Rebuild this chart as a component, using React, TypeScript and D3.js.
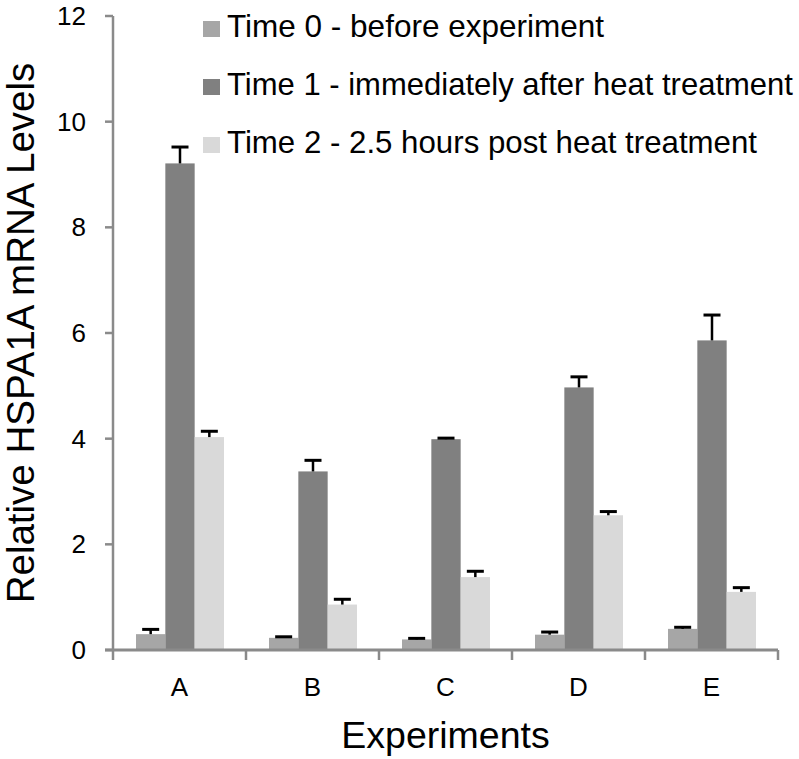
import React from "react";
import * as d3 from "d3";

const categories = ["A", "B", "C", "D", "E"];
const seriesNames = [
  "Time 0 - before experiment",
  "Time 1 - immediately after heat treatment",
  "Time 2 - 2.5 hours post heat treatment",
];
const time0 = [0.3, 0.23, 0.2, 0.29, 0.4];
const time1 = [9.21, 3.38, 3.99, 4.97, 5.86];
const time2 = [4.03, 0.86, 1.38, 2.55, 1.1];
const err0 = [0.09, 0.02, 0.02, 0.05, 0.03];
const err1 = [0.31, 0.21, 0.02, 0.2, 0.48];
const err2 = [0.11, 0.1, 0.11, 0.07, 0.08];
const yTicks = [0, 2, 4, 6, 8, 10, 12];
const colors = ["#a6a6a6", "#808080", "#d9d9d9"];
const legendLengths = [377, 566, 530];

const W = 799;
const H = 759;
const FONT = "'Liberation Sans', Arial, Helvetica, sans-serif";

export default function App() {
  const values = [time0, time1, time2];
  const errors = [err0, err1, err2];
  const left = 113;
  const right = 778;
  const top = 16;
  const bottom = 650;

  const x0 = d3.scaleBand<string>().domain(categories).range([left, right]).padding(0);
  const x1 = d3
    .scaleBand<number>()
    .domain([0, 1, 2])
    .range([23, x0.bandwidth() - 22])
    .padding(0);
  const y = d3.scaleLinear().domain([0, 12]).range([bottom, top]);
  const axisColor = "#8a8a8a";

  return (
    <svg
      width={W}
      height={H}
      style={{ position: "absolute", left: 0, top: 0, background: "#fff" }}
      fontFamily={FONT}
    >
      <rect x={0} y={0} width={W} height={H} fill="#fff" />
      {/* bars */}
      {categories.map((c, ci) => (
        <g key={c} transform={`translate(${x0(c)},0)`}>
          {values.map((vals, si) => {
            const bx = x1(si)!;
            const bw = x1.bandwidth();
            const v = vals[ci];
            const e = errors[si][ci];
            const cx = bx + bw / 2;
            return (
              <g key={si}>
                <rect x={bx} y={y(v)} width={bw} height={y(0) - y(v)} fill={colors[si]} />
                <line x1={cx} x2={cx} y1={y(v)} y2={y(v + e)} stroke="#000" strokeWidth={2.5} />
                <line x1={cx - 8.5} x2={cx + 8.5} y1={y(v + e)} y2={y(v + e)} stroke="#000" strokeWidth={3} />
              </g>
            );
          })}
        </g>
      ))}
      {/* y axis */}
      <line x1={left} x2={left} y1={y(12)} y2={bottom} stroke={axisColor} strokeWidth={2.5} />
      {yTicks.map((t) => (
        <g key={t}>
          <line x1={left - 8} x2={left} y1={y(t)} y2={y(t)} stroke={axisColor} strokeWidth={2.5} />
          <text x={86} y={y(t)} dy="0.35em" textAnchor="end" fontSize={26} fill="#000">
            {t}
          </text>
        </g>
      ))}
      {/* x axis */}
      <line x1={left - 8} x2={right} y1={bottom} y2={bottom} stroke={axisColor} strokeWidth={3} />
      {[...categories.map((c) => x0(c)!), right].map((tx, i) => (
        <line key={i} x1={tx} x2={tx} y1={bottom} y2={bottom + 10} stroke={axisColor} strokeWidth={2.5} />
      ))}
      {categories.map((c) => (
        <text key={c} x={x0(c)! + x0.bandwidth() / 2} y={696} textAnchor="middle" fontSize={26} fill="#000">
          {c}
        </text>
      ))}
      <text x={(left + right) / 2} y={748} textAnchor="middle" fontSize={37.5} fill="#000">
        Experiments
      </text>
      <text
        transform={`translate(34,${(top + bottom) / 2}) rotate(-90)`}
        textAnchor="middle"
        fontSize={38.5}
        fill="#000"
      >
        Relative HSPA1A mRNA Levels
      </text>
      {/* legend */}
      {seriesNames.map((name, i) => {
        const base = 37 + i * 58;
        return (
          <g key={name}>
            <rect x={203} y={base - 16} width={17} height={16} fill={colors[i]} />
            <text
              x={227}
              y={base}
              fontSize={30.5}
              fill="#000"
              textLength={legendLengths[i]}
              lengthAdjust="spacingAndGlyphs"
            >
              {name}
            </text>
          </g>
        );
      })}
    </svg>
  );
}
